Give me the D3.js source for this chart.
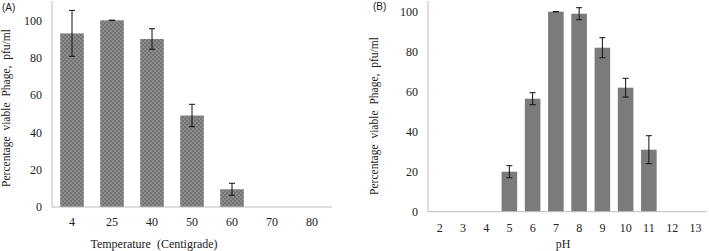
<!DOCTYPE html>
<html>
<head>
<meta charset="utf-8">
<script src="https://cdn.jsdelivr.net/npm/d3@7"></script>
<style>
  body { margin: 0; background: #fff; }
  svg text { font-family: "Liberation Serif", "DejaVu Serif", serif; fill: #222; }
</style>
</head>
<body>
<div id="chart"></div>
<script>
// panel A: temperature
var tempCats = ["4", "25", "40", "50", "60", "70", "80"],
    tempVals = [93, 100, 90, 49, 9.5, 0, 0],
    tempErr = [12.3, 0, 5.5, 6, 3.2, 0, 0];

// panel B: pH
var phCats = ["2", "3", "4", "5", "6", "7", "8", "9", "10", "11", "12", "13"],
    phVals = [0, 0, 0, 20, 56.5, 100, 99, 82, 62, 31, 0, 0],
    phErr = [0, 0, 0, 3, 3, 0, 3, 5, 4.7, 7, 0, 0];

var yTicks = [0, 20, 40, 60, 80, 100];

var svg = d3.select("#chart").append("svg")
    .attr("width", 709)
    .attr("height", 251);

var defs = svg.append("defs");
var pat = defs.append("pattern")
    .attr("id", "dots")
    .attr("patternUnits", "userSpaceOnUse")
    .attr("width", 4)
    .attr("height", 4);
pat.append("rect").attr("width", 4).attr("height", 4).attr("fill", "#747474");
pat.append("circle").attr("cx", 1).attr("cy", 1).attr("r", 0.5).attr("fill", "#f0f0f0");
pat.append("circle").attr("cx", 3).attr("cy", 3).attr("r", 0.5).attr("fill", "#f0f0f0");

function panel(opts) {
    var g = svg.append("g");

    var x = d3.scaleBand()
        .domain(opts.cats)
        .range([opts.left, opts.right])
        .paddingInner(opts.pad)
        .paddingOuter(opts.pad / 2);

    var y = d3.scaleLinear()
        .domain([0, 100])
        .range([opts.bottom, opts.top100]);

    // axis lines
    g.append("line")
        .attr("x1", opts.left).attr("x2", opts.left)
        .attr("y1", opts.axisTop).attr("y2", y(0))
        .attr("stroke", "#bdbdbd").attr("stroke-width", 1);

    // bars
    g.selectAll("rect.bar")
        .data(opts.vals)
        .enter().append("rect")
        .attr("class", "bar")
        .attr("x", function (d, i) { return x(opts.cats[i]); })
        .attr("width", x.bandwidth())
        .attr("y", function (d) { return y(d); })
        .attr("height", function (d) { return y(0) - y(d); })
        .attr("fill", opts.fill);

    g.append("line")
        .attr("x1", opts.left).attr("x2", opts.right)
        .attr("y1", y(0)).attr("y2", y(0))
        .attr("stroke", "#bdbdbd").attr("stroke-width", 1);

    // error bars
    var eb = g.selectAll("g.err")
        .data(opts.vals.map(function (d, i) { return { v: d, e: opts.err[i], c: opts.cats[i] }; })
            .filter(function (d) { return d.v > 0; }))
        .enter().append("g")
        .attr("class", "err")
        .attr("stroke", "#111")
        .attr("stroke-width", 1);
    var cx = function (d) { return x(d.c) + x.bandwidth() / 2; };
    eb.append("line")
        .attr("x1", cx).attr("x2", cx)
        .attr("y1", function (d) { return y(d.v + d.e); })
        .attr("y2", function (d) { return y(d.v - d.e); });
    eb.append("line")
        .attr("x1", function (d) { return cx(d) - 3; }).attr("x2", function (d) { return cx(d) + 3; })
        .attr("y1", function (d) { return y(d.v + d.e); })
        .attr("y2", function (d) { return y(d.v + d.e); });
    eb.append("line")
        .attr("x1", function (d) { return cx(d) - 3; }).attr("x2", function (d) { return cx(d) + 3; })
        .attr("y1", function (d) { return y(d.v - d.e); })
        .attr("y2", function (d) { return y(d.v - d.e); });

    // y tick labels
    g.selectAll("text.ytick")
        .data(yTicks)
        .enter().append("text")
        .attr("class", "ytick")
        .attr("x", opts.left - 10)
        .attr("y", function (d) { return y(d); })
        .attr("dy", "0.35em")
        .attr("text-anchor", "end")
        .style("font-size", "12px")
        .text(function (d) { return d; });

    // x tick labels
    g.selectAll("text.xtick")
        .data(opts.cats)
        .enter().append("text")
        .attr("class", "xtick")
        .attr("x", function (d) { return x(d) + x.bandwidth() / 2; })
        .attr("y", opts.xTickY)
        .attr("dy", "0.35em")
        .attr("text-anchor", "middle")
        .style("font-size", "12px")
        .text(function (d) { return d; });

    // x title
    g.append("text")
        .attr("x", opts.xTitleX)
        .attr("y", opts.xTitleY)
        .attr("dy", "0.35em")
        .attr("text-anchor", "middle")
        .style("font-size", "12px")
        .style("word-spacing", "3px")
        .text(opts.xTitle);

    // y title
    g.append("text")
        .attr("transform", "translate(" + opts.yTitleX + "," + opts.yTitleY + ") rotate(-90)")
        .attr("text-anchor", "middle")
        .attr("dy", "0.35em")
        .style("font-size", "11.5px")
        .style("word-spacing", "3px")
        .text("Percentage viable Phage, pfu/ml");

    // panel letter
    g.append("text")
        .attr("x", opts.labelX)
        .attr("y", opts.labelY)
        .attr("dy", "0.35em")
        .style("font-family", "Liberation Sans, Arial, sans-serif")
        .style("font-size", "10px")
        .text(opts.label);
}

panel({
    cats: tempCats, vals: tempVals, err: tempErr,
    left: 52, right: 332, pad: 0.41,
    bottom: 207, top100: 20.3, axisTop: 1,
    fill: "url(#dots)",
    xTickY: 222, xTitle: "Temperature (Centigrade)", xTitleX: 154, xTitleY: 244,
    yTitleX: 6, yTitleY: 108,
    label: "(A)", labelX: 2, labelY: 7
});

panel({
    cats: phCats, vals: phVals, err: phErr,
    left: 428, right: 707, pad: 0.33,
    bottom: 211.7, top100: 11.7, axisTop: 1,
    fill: "#7b7b7b",
    xTickY: 228, xTitle: "pH", xTitleX: 563, xTitleY: 243.5,
    yTitleX: 374, yTitleY: 116,
    label: "(B)", labelX: 373, labelY: 6
});
</script>
</body>
</html>
